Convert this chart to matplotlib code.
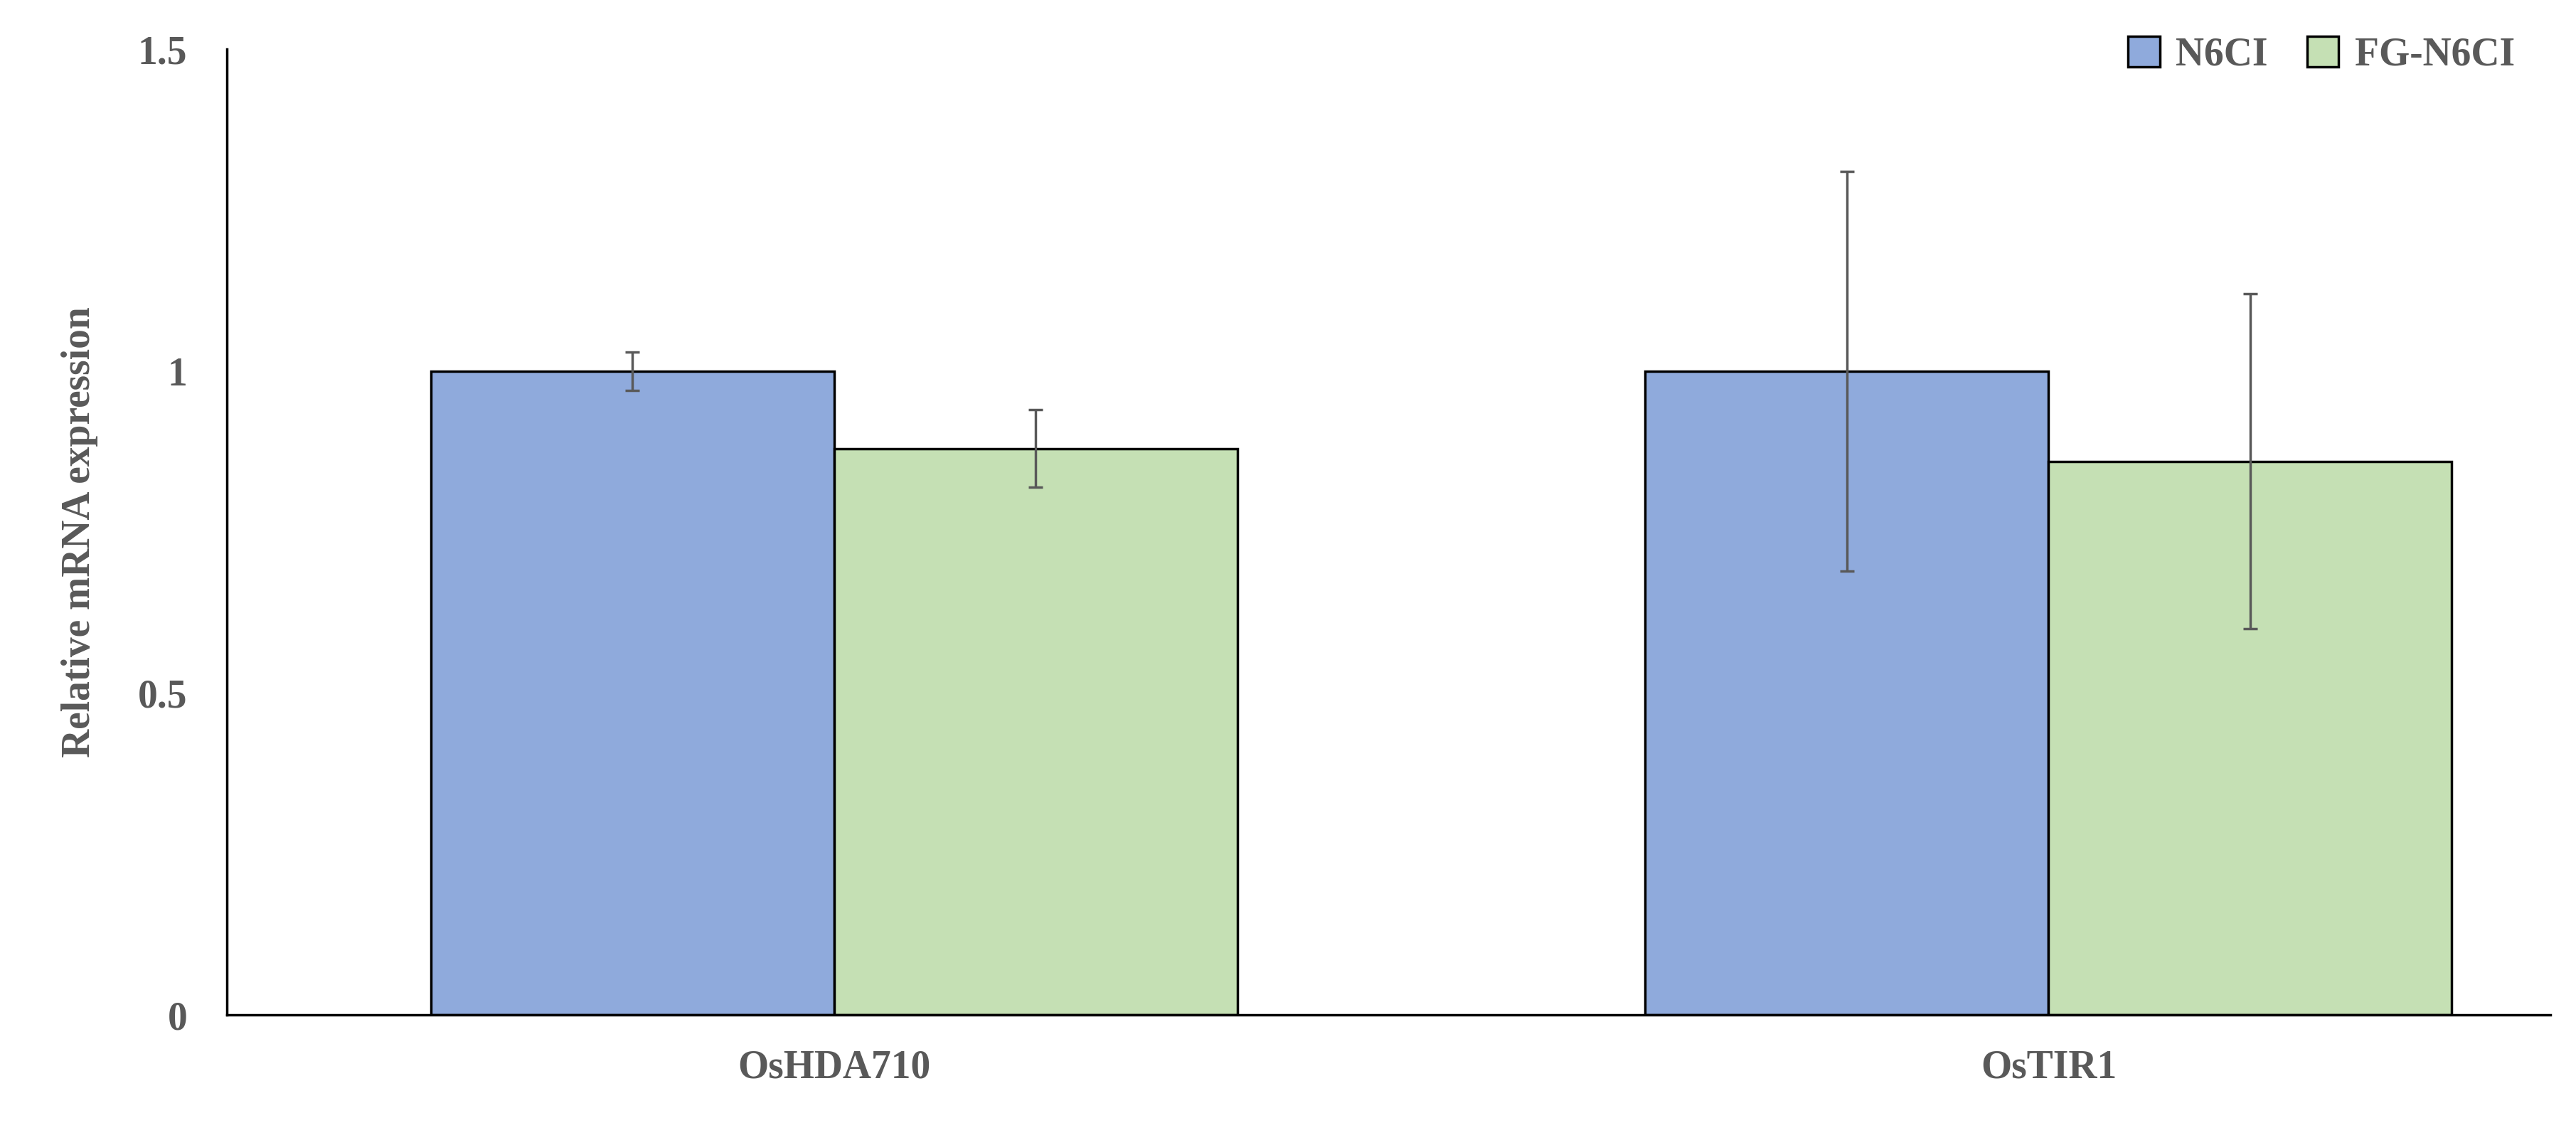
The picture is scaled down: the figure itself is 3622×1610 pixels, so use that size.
import matplotlib
matplotlib.use("Agg")
import matplotlib.pyplot as plt
import numpy as np

categories = ["OsHDA710", "OsTIR1"]
series = ["N6CI", "FG-N6CI"]
n6ci = [1.0, 1.0]
n6ci_err = [0.03, 0.31]
fg = [0.88, 0.86]
fg_err = [0.06, 0.26]
yticks = [0, 0.5, 1, 1.5]
yticklabels = ["0", "0.5", "1", "1.5"]

gray = "#595959"
plt.rcParams["font.family"] = ["Liberation Serif", "DejaVu Serif"]
plt.rcParams["font.weight"] = "bold"

fig = plt.figure(figsize=(36.22, 16.10), dpi=100)
ax = fig.add_axes([0.088, 0.1135, 0.902, 0.8435])
x = np.arange(len(categories))
w = 0.332
ekw = dict(ecolor=gray, elinewidth=2.5, capsize=7, capthick=2.5)
ax.bar(x - w/2, n6ci, w, yerr=n6ci_err, color="#8faadc", edgecolor="black", linewidth=2.5, label=series[0], error_kw=ekw)
ax.bar(x + w/2, fg, w, yerr=fg_err, color="#c5e0b4", edgecolor="black", linewidth=2.5, label=series[1], error_kw=ekw)
ax.set_xlim(-0.5, 1.413)
ax.set_ylim(0, 1.5)
ax.set_yticks(yticks)
ax.set_yticklabels(yticklabels)
ax.set_xticks(x)
ax.set_xticklabels(categories)
for s in ["top", "right"]:
    ax.spines[s].set_visible(False)
for s in ["left", "bottom"]:
    ax.spines[s].set_linewidth(2.5)
ax.tick_params(axis="both", length=0, labelsize=40, colors=gray, pad=40)
ax.tick_params(axis="x", pad=35)
for t in ax.get_xticklabels() + ax.get_yticklabels():
    t.set_fontweight("bold")
ax.set_ylabel("Relative mRNA expression", fontsize=40, color=gray, fontweight="bold", labelpad=40)
leg = ax.legend(loc="upper right", bbox_to_anchor=(1.0, 1.05), ncol=2, frameon=False,
                prop={"size": 40, "weight": "bold"}, handlelength=0.8, handleheight=0.8,
                columnspacing=1.0, handletextpad=0.4)
for t in leg.get_texts():
    t.set_color(gray)
fig.savefig("out.png", dpi=100)
